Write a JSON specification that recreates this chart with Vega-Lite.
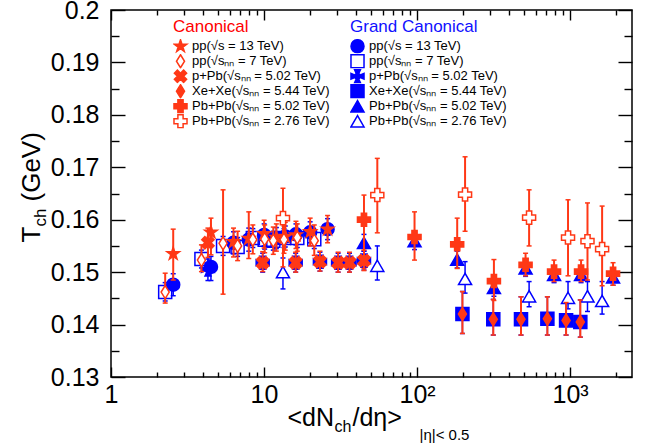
{
"$schema": "https://vega.github.io/schema/vega-lite/v6.json",
"width": 521, "height": 367,
"autosize": "none",
"padding": {"left": 111, "top": 10, "right": 13, "bottom": 68},
"background": "white",
"config": {
  "view": {"stroke": "black", "strokeWidth": 1.5},
  "axis": {"grid": false, "domain": false, "labelFont": "Liberation Sans", "titleFont": "Liberation Sans", "labelFontSize": 25, "labelColor": "black", "titleColor": "black", "tickColor": "black", "tickWidth": 1.4, "titleFontWeight": "normal", "titlePadding": 0, "labelFlush": false, "labelOverlap": false},
  "legend": {"labelFont": "Liberation Sans", "titleFont": "Liberation Sans", "labelFontSize": 13, "titleFontSize": 17, "titleFontWeight": "normal", "symbolStrokeWidth": 1.5, "symbolSize": 170, "rowPadding": 0, "clipHeight": 14.5, "titlePadding": 3, "labelOffset": 4, "labelLimit": 400, "padding": 0, "labelColor": "black"}
},
"data": {"values": [
{"ens":"G","sys":"pp13","x":2.55,"y":0.1476,"lo":0.1455,"hi":0.1497},
{"ens":"G","sys":"pp13","x":4.50,"y":0.1510,"lo":0.1484,"hi":0.1530},
{"ens":"G","sys":"pp13","x":6.32,"y":0.1556,"lo":0.1535,"hi":0.1577},
{"ens":"G","sys":"pp13","x":7.95,"y":0.1562,"lo":0.1540,"hi":0.1584},
{"ens":"G","sys":"pp13","x":10.02,"y":0.1571,"lo":0.1550,"hi":0.1592},
{"ens":"G","sys":"pp13","x":12.04,"y":0.1565,"lo":0.1545,"hi":0.1585},
{"ens":"G","sys":"pp13","x":13.77,"y":0.1568,"lo":0.1548,"hi":0.1588},
{"ens":"G","sys":"pp13","x":16.17,"y":0.1572,"lo":0.1552,"hi":0.1592},
{"ens":"G","sys":"pp13","x":20.02,"y":0.1576,"lo":0.1556,"hi":0.1596},
{"ens":"G","sys":"pp13","x":26.02,"y":0.1582,"lo":0.1562,"hi":0.1602},
{"ens":"G","sys":"pp7","x":2.26,"y":0.1462,"lo":0.1445,"hi":0.1480},
{"ens":"G","sys":"pp7","x":3.90,"y":0.1525,"lo":0.1508,"hi":0.1542},
{"ens":"G","sys":"pp7","x":5.40,"y":0.1550,"lo":0.1532,"hi":0.1568},
{"ens":"G","sys":"pp7","x":6.72,"y":0.1548,"lo":0.1530,"hi":0.1566},
{"ens":"G","sys":"pp7","x":8.45,"y":0.1565,"lo":0.1547,"hi":0.1583},
{"ens":"G","sys":"pp7","x":10.1,"y":0.1562,"lo":0.1544,"hi":0.1580},
{"ens":"G","sys":"pp7","x":11.5,"y":0.1560,"lo":0.1542,"hi":0.1578},
{"ens":"G","sys":"pp7","x":13.5,"y":0.1565,"lo":0.1547,"hi":0.1583},
{"ens":"G","sys":"pp7","x":16.5,"y":0.1565,"lo":0.1547,"hi":0.1583},
{"ens":"G","sys":"pp7","x":21.3,"y":0.1563,"lo":0.1545,"hi":0.1581},
{"ens":"G","sys":"pPb","x":4.3,"y":0.1505,"lo":0.1484,"hi":0.1525},
{"ens":"G","sys":"pPb","x":9.8,"y":0.1518,"lo":0.1500,"hi":0.1536},
{"ens":"G","sys":"pPb","x":16.1,"y":0.1518,"lo":0.1500,"hi":0.1536},
{"ens":"G","sys":"pPb","x":23.2,"y":0.1520,"lo":0.1502,"hi":0.1538},
{"ens":"G","sys":"pPb","x":30.5,"y":0.1518,"lo":0.1500,"hi":0.1536},
{"ens":"G","sys":"pPb","x":36.2,"y":0.1518,"lo":0.1500,"hi":0.1536},
{"ens":"G","sys":"pPb","x":45,"y":0.1522,"lo":0.1504,"hi":0.1540},
{"ens":"G","sys":"XeXe","x":198,"y":0.1420,"lo":0.1383,"hi":0.1463},
{"ens":"G","sys":"XeXe","x":315,"y":0.1410,"lo":0.1380,"hi":0.1448},
{"ens":"G","sys":"XeXe","x":478,"y":0.1410,"lo":0.1380,"hi":0.1453},
{"ens":"G","sys":"XeXe","x":711,"y":0.1411,"lo":0.1380,"hi":0.1453},
{"ens":"G","sys":"XeXe","x":942,"y":0.1408,"lo":0.1380,"hi":0.1442},
{"ens":"G","sys":"XeXe","x":1167,"y":0.1405,"lo":0.1376,"hi":0.1447},
{"ens":"G","sys":"PbPb502","x":45,"y":0.1556,"lo":0.1540,"hi":0.1572},
{"ens":"G","sys":"PbPb502","x":96.3,"y":0.1559,"lo":0.1543,"hi":0.1575},
{"ens":"G","sys":"PbPb502","x":183,"y":0.1524,"lo":0.1508,"hi":0.1540},
{"ens":"G","sys":"PbPb502","x":318,"y":0.1470,"lo":0.1454,"hi":0.1486},
{"ens":"G","sys":"PbPb502","x":512,"y":0.1507,"lo":0.1492,"hi":0.1522},
{"ens":"G","sys":"PbPb502","x":786,"y":0.1495,"lo":0.1480,"hi":0.1510},
{"ens":"G","sys":"PbPb502","x":1180,"y":0.1495,"lo":0.1480,"hi":0.1510},
{"ens":"G","sys":"PbPb502","x":1910,"y":0.1490,"lo":0.1475,"hi":0.1505},
{"ens":"G","sys":"PbPb276","x":13.3,"y":0.1500,"lo":0.1468,"hi":0.1527},
{"ens":"G","sys":"PbPb276","x":55,"y":0.1512,"lo":0.1485,"hi":0.1550},
{"ens":"G","sys":"PbPb276","x":206,"y":0.1487,"lo":0.1460,"hi":0.1520},
{"ens":"G","sys":"PbPb276","x":540,"y":0.1454,"lo":0.1434,"hi":0.1482},
{"ens":"G","sys":"PbPb276","x":970,"y":0.1451,"lo":0.1430,"hi":0.1482},
{"ens":"G","sys":"PbPb276","x":1300,"y":0.1454,"lo":0.1425,"hi":0.1482},
{"ens":"G","sys":"PbPb276","x":1620,"y":0.1445,"lo":0.1420,"hi":0.1482},
{"ens":"C","sys":"pp13","x":2.55,"y":0.1535,"lo":0.1485,"hi":0.1582},
{"ens":"C","sys":"pp13","x":4.50,"y":0.1576,"lo":0.1533,"hi":0.1603},
{"ens":"C","sys":"pp13","x":6.32,"y":0.1558,"lo":0.1529,"hi":0.1584},
{"ens":"C","sys":"pp13","x":7.95,"y":0.1564,"lo":0.1526,"hi":0.1615},
{"ens":"C","sys":"pp13","x":10.02,"y":0.1573,"lo":0.1546,"hi":0.1599},
{"ens":"C","sys":"pp13","x":12.04,"y":0.1566,"lo":0.1540,"hi":0.1592},
{"ens":"C","sys":"pp13","x":13.77,"y":0.1568,"lo":0.1542,"hi":0.1595},
{"ens":"C","sys":"pp13","x":16.17,"y":0.1571,"lo":0.1545,"hi":0.1597},
{"ens":"C","sys":"pp13","x":20.02,"y":0.1577,"lo":0.1550,"hi":0.1603},
{"ens":"C","sys":"pp13","x":26.02,"y":0.1582,"lo":0.1556,"hi":0.1608},
{"ens":"C","sys":"pp7","x":2.26,"y":0.1462,"lo":0.1441,"hi":0.1498},
{"ens":"C","sys":"pp7","x":3.90,"y":0.1523,"lo":0.1501,"hi":0.1552},
{"ens":"C","sys":"pp7","x":5.40,"y":0.1555,"lo":0.1458,"hi":0.1657},
{"ens":"C","sys":"pp7","x":6.72,"y":0.1550,"lo":0.1522,"hi":0.1578},
{"ens":"C","sys":"pp7","x":8.45,"y":0.1562,"lo":0.1535,"hi":0.1590},
{"ens":"C","sys":"pp7","x":10.1,"y":0.1563,"lo":0.1537,"hi":0.1590},
{"ens":"C","sys":"pp7","x":11.5,"y":0.1560,"lo":0.1534,"hi":0.1586},
{"ens":"C","sys":"pp7","x":13.5,"y":0.1562,"lo":0.1536,"hi":0.1588},
{"ens":"C","sys":"pp7","x":16.5,"y":0.1566,"lo":0.1540,"hi":0.1592},
{"ens":"C","sys":"pp7","x":21.3,"y":0.1560,"lo":0.1532,"hi":0.1590},
{"ens":"C","sys":"pPb","x":4.3,"y":0.1556,"lo":0.1528,"hi":0.1584},
{"ens":"C","sys":"pPb","x":9.8,"y":0.1518,"lo":0.1501,"hi":0.1539},
{"ens":"C","sys":"pPb","x":16.1,"y":0.1518,"lo":0.1500,"hi":0.1538},
{"ens":"C","sys":"pPb","x":23.2,"y":0.1520,"lo":0.1502,"hi":0.1540},
{"ens":"C","sys":"pPb","x":30.5,"y":0.1518,"lo":0.1500,"hi":0.1538},
{"ens":"C","sys":"pPb","x":36.2,"y":0.1518,"lo":0.1500,"hi":0.1538},
{"ens":"C","sys":"pPb","x":45,"y":0.1522,"lo":0.1503,"hi":0.1542},
{"ens":"C","sys":"XeXe","x":198,"y":0.1420,"lo":0.1383,"hi":0.1463},
{"ens":"C","sys":"XeXe","x":315,"y":0.1410,"lo":0.1380,"hi":0.1448},
{"ens":"C","sys":"XeXe","x":478,"y":0.1410,"lo":0.1380,"hi":0.1453},
{"ens":"C","sys":"XeXe","x":711,"y":0.1411,"lo":0.1380,"hi":0.1453},
{"ens":"C","sys":"XeXe","x":942,"y":0.1408,"lo":0.1380,"hi":0.1442},
{"ens":"C","sys":"XeXe","x":1167,"y":0.1405,"lo":0.1376,"hi":0.1447},
{"ens":"C","sys":"PbPb502","x":45,"y":0.1600,"lo":0.1507,"hi":0.1647},
{"ens":"C","sys":"PbPb502","x":96.3,"y":0.1567,"lo":0.1523,"hi":0.1615},
{"ens":"C","sys":"PbPb502","x":183,"y":0.1553,"lo":0.1507,"hi":0.1603},
{"ens":"C","sys":"PbPb502","x":318,"y":0.1483,"lo":0.1446,"hi":0.1524},
{"ens":"C","sys":"PbPb502","x":512,"y":0.1514,"lo":0.1493,"hi":0.1536},
{"ens":"C","sys":"PbPb502","x":786,"y":0.1501,"lo":0.1482,"hi":0.1523},
{"ens":"C","sys":"PbPb502","x":1180,"y":0.1501,"lo":0.1482,"hi":0.1523},
{"ens":"C","sys":"PbPb502","x":1910,"y":0.1497,"lo":0.1475,"hi":0.1518},
{"ens":"C","sys":"PbPb276","x":13.3,"y":0.1603,"lo":0.1510,"hi":0.1660},
{"ens":"C","sys":"PbPb276","x":55,"y":0.1647,"lo":0.1575,"hi":0.1717},
{"ens":"C","sys":"PbPb276","x":206,"y":0.1648,"lo":0.1578,"hi":0.1720},
{"ens":"C","sys":"PbPb276","x":540,"y":0.1604,"lo":0.1550,"hi":0.1657},
{"ens":"C","sys":"PbPb276","x":970,"y":0.1566,"lo":0.1493,"hi":0.1638},
{"ens":"C","sys":"PbPb276","x":1300,"y":0.1559,"lo":0.1485,"hi":0.1632},
{"ens":"C","sys":"PbPb276","x":1620,"y":0.1544,"lo":0.1474,"hi":0.1626}
]},
"resolve": {
  "axis": {"x": "independent", "y": "independent"},
  "scale": {"shape": "independent", "fill": "independent", "stroke": "independent"},
  "legend": {"shape": "independent", "fill": "independent", "stroke": "independent"}
},
"layer": [
{
  "transform": [{"filter": "datum.ens == 'G'"}],
  "mark": {"type": "rule", "color": "#0000ff", "strokeWidth": 1.5},
  "encoding": {
    "x": {"field": "x", "type": "quantitative", "scale": {"type": "log", "domain": [1, 2540], "nice": false},
      "axis": {"orient": "bottom", "values": [1, 10, 100, 1000], "tickSize": -10, "labelPadding": 15,
        "labelExpr": "datum.value == 1 ? '1' : datum.value == 10 ? '10' : datum.value == 100 ? '10²' : '10³'",
        "title": "<dN", "titleX": 176, "titleY": 48, "titleAlign": "left", "titleBaseline": "alphabetic", "titleFontSize": 25}},
    "y": {"field": "lo", "type": "quantitative", "scale": {"domain": [0.13, 0.2], "nice": false, "zero": false},
      "axis": {"orient": "left", "values": [0.13, 0.14, 0.15, 0.16, 0.17, 0.18, 0.19, 0.2], "format": ".2~f", "tickSize": -14, "labelPadding": 26,
        "title": "T", "titleX": -72, "titleY": 232, "titleAngle": 270, "titleAlign": "left", "titleBaseline": "alphabetic", "titleFontSize": 26}},
    "y2": {"field": "hi"}
  }
},
{
  "transform": [{"filter": "datum.ens == 'G'"}, {"fold": ["lo", "hi"], "as": ["end", "val"]}],
  "mark": {"type": "tick", "orient": "horizontal", "color": "#0000ff", "size": 5, "thickness": 1.5, "opacity": 1},
  "encoding": {
    "x": {"field": "x", "type": "quantitative", "scale": {"type": "log", "domain": [1, 2540], "nice": false}, "axis": null},
    "y": {"field": "val", "type": "quantitative", "scale": {"domain": [0.13, 0.2], "nice": false, "zero": false}, "axis": null}
  }
},
{
  "transform": [{"filter": "datum.ens == 'G'"}],
  "mark": {"type": "point", "filled": true, "opacity": 1, "strokeWidth": 1.5, "size": 170},
  "encoding": {
    "x": {"field": "x", "type": "quantitative", "scale": {"type": "log", "domain": [1, 2540], "nice": false},
      "axis": {"orient": "bottom", "values": [2,3,4,5,6,7,8,9,20,30,40,50,60,70,80,90,200,300,400,500,600,700,800,900,2000], "tickSize": -5, "labels": false,
        "title": "ch", "titleX": 223, "titleY": 54, "titleAlign": "left", "titleBaseline": "alphabetic", "titleFontSize": 16}},
    "y": {"field": "y", "type": "quantitative", "scale": {"domain": [0.13, 0.2], "nice": false, "zero": false},
      "axis": {"orient": "left", "values": [0.135, 0.145, 0.155, 0.165, 0.175, 0.185, 0.195], "tickSize": -8, "labels": false,
        "title": "ch", "titleX": -66, "titleY": 216, "titleAngle": 270, "titleAlign": "left", "titleBaseline": "alphabetic", "titleFontSize": 17}},
    "shape": {"field": "sys", "type": "nominal",
      "scale": {"domain": ["pp13", "pp7", "pPb", "XeXe", "PbPb502", "PbPb276"], "range": ["circle", "square", "M0,0L-0.45,-1L0.45,-1Z M0,0L1,-0.45L1,0.45Z M0,0L0.45,1L-0.45,1Z M0,0L-1,0.45L-1,-0.45Z M-0.3,-0.3L0.3,-0.3L0.3,0.3L-0.3,0.3Z", "square", "triangle-up", "triangle-up"]},
      "legend": {"title": "Grand Canonical", "orient": "none", "legendX": 239, "legendY": 9, "titleColor": "#1010ff",
        "labelExpr": "datum.label == 'pp13' ? 'pp(√s = 13 TeV)' : datum.label == 'pp7' ? 'pp(√sₙₙ = 7 TeV)' : datum.label == 'pPb' ? 'p+Pb(√sₙₙ = 5.02 TeV)' : datum.label == 'XeXe' ? 'Xe+Xe(√sₙₙ = 5.44 TeV)' : datum.label == 'PbPb502' ? 'Pb+Pb(√sₙₙ = 5.02 TeV)' : 'Pb+Pb(√sₙₙ = 2.76 TeV)'"}},
    "fill": {"field": "sys", "type": "nominal",
      "scale": {"domain": ["pp13", "pp7", "pPb", "XeXe", "PbPb502", "PbPb276"], "range": ["#0000ff", "transparent", "#0000ff", "#0000ff", "#0000ff", "white"]},
      "legend": {"title": "Grand Canonical", "orient": "none", "legendX": 239, "legendY": 9, "titleColor": "#1010ff",
        "labelExpr": "datum.label == 'pp13' ? 'pp(√s = 13 TeV)' : datum.label == 'pp7' ? 'pp(√sₙₙ = 7 TeV)' : datum.label == 'pPb' ? 'p+Pb(√sₙₙ = 5.02 TeV)' : datum.label == 'XeXe' ? 'Xe+Xe(√sₙₙ = 5.44 TeV)' : datum.label == 'PbPb502' ? 'Pb+Pb(√sₙₙ = 5.02 TeV)' : 'Pb+Pb(√sₙₙ = 2.76 TeV)'"}},
    "stroke": {"field": "sys", "type": "nominal",
      "scale": {"domain": ["pp13", "pp7", "pPb", "XeXe", "PbPb502", "PbPb276"], "range": ["#0000ff", "#0000ff", "#0000ff", "#0000ff", "#0000ff", "#0000ff"]},
      "legend": {"title": "Grand Canonical", "orient": "none", "legendX": 239, "legendY": 9, "titleColor": "#1010ff",
        "labelExpr": "datum.label == 'pp13' ? 'pp(√s = 13 TeV)' : datum.label == 'pp7' ? 'pp(√sₙₙ = 7 TeV)' : datum.label == 'pPb' ? 'p+Pb(√sₙₙ = 5.02 TeV)' : datum.label == 'XeXe' ? 'Xe+Xe(√sₙₙ = 5.44 TeV)' : datum.label == 'PbPb502' ? 'Pb+Pb(√sₙₙ = 5.02 TeV)' : 'Pb+Pb(√sₙₙ = 2.76 TeV)'"}}
  }
},
{
  "transform": [{"filter": "datum.ens == 'C'"}],
  "mark": {"type": "rule", "color": "#ff3816", "strokeWidth": 2},
  "encoding": {
    "x": {"field": "x", "type": "quantitative", "scale": {"type": "log", "domain": [1, 2540], "nice": false},
      "axis": {"orient": "top", "values": [1, 10, 100, 1000], "tickSize": -10, "labels": false,
        "title": "/dη>", "titleX": 241, "titleY": 415, "titleAlign": "left", "titleBaseline": "alphabetic", "titleFontSize": 25}},
    "y": {"field": "lo", "type": "quantitative", "scale": {"domain": [0.13, 0.2], "nice": false, "zero": false},
      "axis": {"orient": "right", "values": [0.13, 0.14, 0.15, 0.16, 0.17, 0.18, 0.19, 0.2], "tickSize": -14, "labels": false,
        "title": "(GeV)", "titleX": -593, "titleY": 191, "titleAngle": 270, "titleAlign": "left", "titleBaseline": "alphabetic", "titleFontSize": 26}},
    "y2": {"field": "hi"}
  }
},
{
  "transform": [{"filter": "datum.ens == 'C'"}, {"fold": ["lo", "hi"], "as": ["end", "val"]}],
  "mark": {"type": "tick", "orient": "horizontal", "color": "#ff3816", "size": 5, "thickness": 1.5, "opacity": 1},
  "encoding": {
    "x": {"field": "x", "type": "quantitative", "scale": {"type": "log", "domain": [1, 2540], "nice": false}, "axis": null},
    "y": {"field": "val", "type": "quantitative", "scale": {"domain": [0.13, 0.2], "nice": false, "zero": false}, "axis": null}
  }
},
{
  "transform": [{"filter": "datum.ens == 'C'"}],
  "mark": {"type": "point", "filled": true, "opacity": 1, "strokeWidth": 1.5, "size": 170},
  "encoding": {
    "x": {"field": "x", "type": "quantitative", "scale": {"type": "log", "domain": [1, 2540], "nice": false},
      "axis": {"orient": "top", "values": [2,3,4,5,6,7,8,9,20,30,40,50,60,70,80,90,200,300,400,500,600,700,800,900,2000], "tickSize": -5, "labels": false,
        "title": "|η|< 0.5", "titleX": 308, "titleY": 429, "titleAlign": "left", "titleBaseline": "alphabetic", "titleFontSize": 15}},
    "y": {"field": "y", "type": "quantitative", "scale": {"domain": [0.13, 0.2], "nice": false, "zero": false},
      "axis": {"orient": "right", "values": [0.135, 0.145, 0.155, 0.165, 0.175, 0.185, 0.195], "tickSize": -8, "labels": false, "title": null}},
    "shape": {"field": "sys", "type": "nominal",
      "scale": {"domain": ["pp13", "pp7", "pPb", "XeXe", "PbPb502", "PbPb276"], "range": ["M0,-1L0.225,-0.309L0.951,-0.309L0.363,0.118L0.588,0.809L0,0.382L-0.588,0.809L-0.363,0.118L-0.951,-0.309L-0.225,-0.309Z", "M0,-1L0.62,0L0,1L-0.62,0Z", "M0.474,-0.94L0.94,-0.474L0.467,0L0.94,0.474L0.474,0.94L0,0.467L-0.474,0.94L-0.94,0.474L-0.467,0L-0.94,-0.474L-0.474,-0.94L0,-0.467Z", "M0,-1L0.62,0L0,1L-0.62,0Z", "cross", "cross"]},
      "legend": {"title": "Canonical", "orient": "none", "legendX": 62, "legendY": 9, "titleColor": "#ff0000",
        "labelExpr": "datum.label == 'pp13' ? 'pp(√s = 13 TeV)' : datum.label == 'pp7' ? 'pp(√sₙₙ = 7 TeV)' : datum.label == 'pPb' ? 'p+Pb(√sₙₙ = 5.02 TeV)' : datum.label == 'XeXe' ? 'Xe+Xe(√sₙₙ = 5.44 TeV)' : datum.label == 'PbPb502' ? 'Pb+Pb(√sₙₙ = 5.02 TeV)' : 'Pb+Pb(√sₙₙ = 2.76 TeV)'"}},
    "fill": {"field": "sys", "type": "nominal",
      "scale": {"domain": ["pp13", "pp7", "pPb", "XeXe", "PbPb502", "PbPb276"], "range": ["#ff3816", "white", "#ff3816", "#ff3816", "#ff3816", "white"]},
      "legend": {"title": "Canonical", "orient": "none", "legendX": 62, "legendY": 9, "titleColor": "#ff0000",
        "labelExpr": "datum.label == 'pp13' ? 'pp(√s = 13 TeV)' : datum.label == 'pp7' ? 'pp(√sₙₙ = 7 TeV)' : datum.label == 'pPb' ? 'p+Pb(√sₙₙ = 5.02 TeV)' : datum.label == 'XeXe' ? 'Xe+Xe(√sₙₙ = 5.44 TeV)' : datum.label == 'PbPb502' ? 'Pb+Pb(√sₙₙ = 5.02 TeV)' : 'Pb+Pb(√sₙₙ = 2.76 TeV)'"}},
    "stroke": {"field": "sys", "type": "nominal",
      "scale": {"domain": ["pp13", "pp7", "pPb", "XeXe", "PbPb502", "PbPb276"], "range": ["#ff3816", "#ff3816", "#ff3816", "#ff3816", "#ff3816", "#ff3816"]},
      "legend": {"title": "Canonical", "orient": "none", "legendX": 62, "legendY": 9, "titleColor": "#ff0000",
        "labelExpr": "datum.label == 'pp13' ? 'pp(√s = 13 TeV)' : datum.label == 'pp7' ? 'pp(√sₙₙ = 7 TeV)' : datum.label == 'pPb' ? 'p+Pb(√sₙₙ = 5.02 TeV)' : datum.label == 'XeXe' ? 'Xe+Xe(√sₙₙ = 5.44 TeV)' : datum.label == 'PbPb502' ? 'Pb+Pb(√sₙₙ = 5.02 TeV)' : 'Pb+Pb(√sₙₙ = 2.76 TeV)'"}}
  }
}
]
}
